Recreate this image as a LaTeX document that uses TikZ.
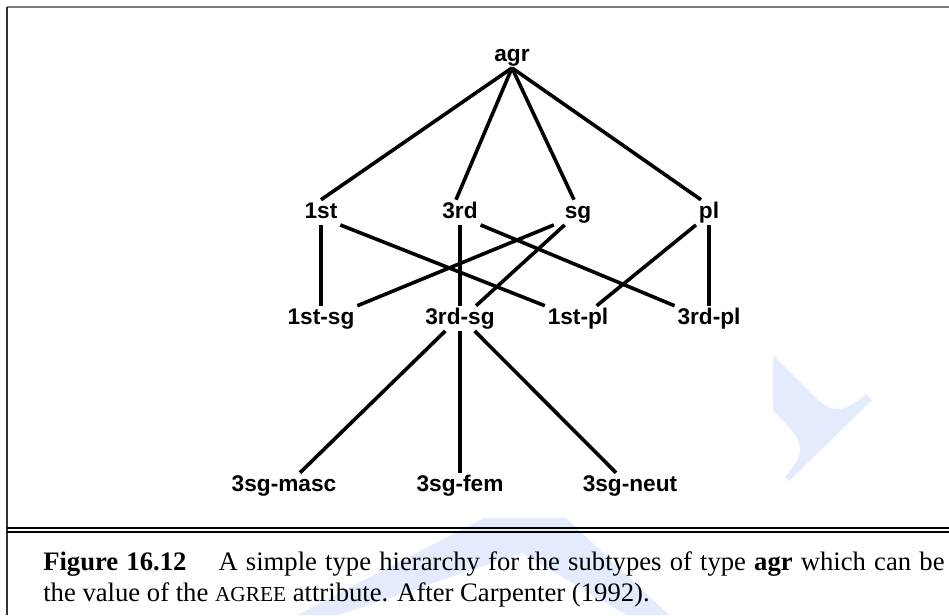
\documentclass[tikz,border=0pt]{standalone}
\usepackage{fontspec}
\setmainfont{Liberation Serif}
\newfontfamily\typefont{Liberation Sans}
\definecolor{wmblue}{RGB}{227,235,252}
\definecolor{framegray}{RGB}{120,120,120}

\begin{document}
\begin{tikzpicture}[x=0.75pt,y=-0.75pt,
  tnode/.style={anchor=base,font=\typefont\bfseries\fontsize{17}{17}\selectfont,
    text height=11.5pt,text depth=3pt,inner xsep=2pt,inner ysep=2pt},
  edge/.style={line width=2.7pt}]
\useasboundingbox (0,0) rectangle (949,615);
\fill[wmblue] (773,355) -- (818,400) .. controls (826,407) and (831,409) .. (838,409)
  .. controls (846,409) and (856,403) .. (866,394) -- (872,400) -- (789,481) -- (785,477)
  .. controls (794,466) and (800,458) .. (800,449) .. controls (800,436) and (786,424) .. (773,411) -- cycle;
\fill[wmblue] (484,518) -- (566,518) -- (669,615) -- (626,615) -- (522,553) -- (339,615) -- (297,615) -- cycle;
\draw[line width=1.5pt,framegray] (7,7) -- (949,7);
\draw[line width=0.8pt,black!80] (7,7) -- (7,615);
\draw[line width=0.8pt] (7,528) -- (949,528);
\draw[line width=0.8pt] (7,532) -- (949,532);

\node[tnode] (agr) at (512,61) {agr};
\node[tnode] (first) at (321,218) {1st};
\node[tnode] (third) at (460,218) {3rd};
\node[tnode] (sg) at (578,218) {sg};
\node[tnode] (pl) at (709,218) {pl};
\node[tnode] (firstsg) at (321,324) {1st-sg};
\node[tnode] (thirdsg) at (460,324) {3rd-sg};
\node[tnode] (firstpl) at (578,324) {1st-pl};
\node[tnode] (thirdpl) at (709,324) {3rd-pl};
\node[tnode] (masc) at (284,491) {3sg-masc};
\node[tnode] (fem) at (460,491) {3sg-fem};
\node[tnode] (neut) at (630,491) {3sg-neut};

\draw[edge] (agr.south) -- (first.north);
\draw[edge] (agr.south) -- ([xshift=-3pt]third.north);
\draw[edge] (agr.south) -- ([xshift=-3pt]sg.north);
\draw[edge] (agr.south) -- ([xshift=-6pt]pl.north);
\draw[edge] (first.south) -- (firstsg.north);
\draw[edge] (first.south east) -- (firstpl.north west);
\draw[edge] (third.south) -- (thirdsg.north);
\draw[edge] (third.south east) -- (thirdpl.north west);
\draw[edge] ([xshift=-6pt]sg.south west) -- (firstsg.north east);
\draw[edge] ([xshift=-10pt]sg.south) -- ([xshift=12pt]thirdsg.north);
\draw[edge] (pl.south west) -- ([xshift=14pt]firstpl.north);
\draw[edge] (pl.south) -- (thirdpl.north);
\draw[edge] ([xshift=-11pt]thirdsg.south) -- ([xshift=12pt]masc.north);
\draw[edge] (thirdsg.south) -- (fem.north);
\draw[edge] ([xshift=11pt]thirdsg.south) -- ([xshift=-10.5pt]neut.north);

\node[anchor=base west,text width=676pt,align=justify,inner sep=0pt,
  font=\fontsize{20}{23.25}\selectfont] (caption) at (43,570)
  {\textbf{Figure 16.12}\hspace{1.2em}A simple type hierarchy for the subtypes of type \textbf{agr} which can be\linebreak
   the value of the {\fontsize{16}{16}\selectfont AGREE} attribute. After Carpenter (1992).};
\end{tikzpicture}
\end{document}
